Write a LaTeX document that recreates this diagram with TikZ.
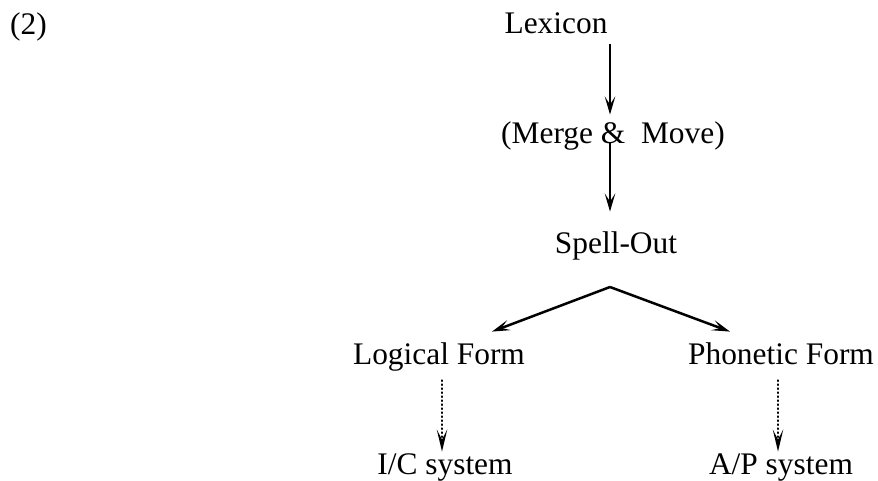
\documentclass[tikz,border=0pt]{standalone}
\usepackage{fontspec}
\setmainfont{Liberation Serif}
\usetikzlibrary{arrows.meta}

\begin{document}
\begin{tikzpicture}[x=0.5pt, y=-0.5pt,
  lbl/.style={anchor=base, inner sep=0pt, text height=11pt, text depth=4pt,
    font=\fontsize{15.7pt}{19pt}\selectfont},
  arr/.style={line width=1.25pt, -{Stealth[length=9pt, width=5.2pt, inset=4pt]}},
  dotarr/.style={line width=1.2pt, line cap=round, dash pattern=on 0.3pt off 1.7pt,
    -{Stealth[length=11pt, width=5.2pt, inset=5pt, line cap=butt]}}]

\useasboundingbox (0,0) rectangle (878,481);

\node[lbl] (num) at (28.5,35) {(2)};

\node[lbl] (lex) at (556,34) {Lexicon};
\node[lbl] (merge) at (613,143) {(Merge \&~ Move)};
\node[lbl] (spell) at (616,253) {Spell-Out};
\coordinate (fork) at (610,287);

\node[lbl] (lf) at (439,364) {Logical Form};
\node[lbl] (pf) at (781,364) {Phonetic Form};

\node[lbl] (ic) at (445,474) {I/C system};
\node[lbl] (ap) at (781,474) {A/P system};

\draw [arr, shorten <=1pt, shorten >=3pt] (lex.south -| 610,0) -- (merge.north -| 610,0);
\draw [arr, shorten >=9.5pt] (merge.base -| 610,0) -- (spell.north -| 610,0);
\draw [arr] (fork) -- ([xshift=26.5pt, yshift=5pt]lf.north);
\draw [arr] (fork) -- ([xshift=-25.5pt, yshift=5pt]pf.north);

\draw [dotarr, shorten <=4pt] (lf.south -| 442,0) -- (ic.north -| 442,0);
\draw [dotarr, shorten <=4pt] (pf.south -| 778,0) -- (ap.north -| 778,0);
\end{tikzpicture}
\end{document}
